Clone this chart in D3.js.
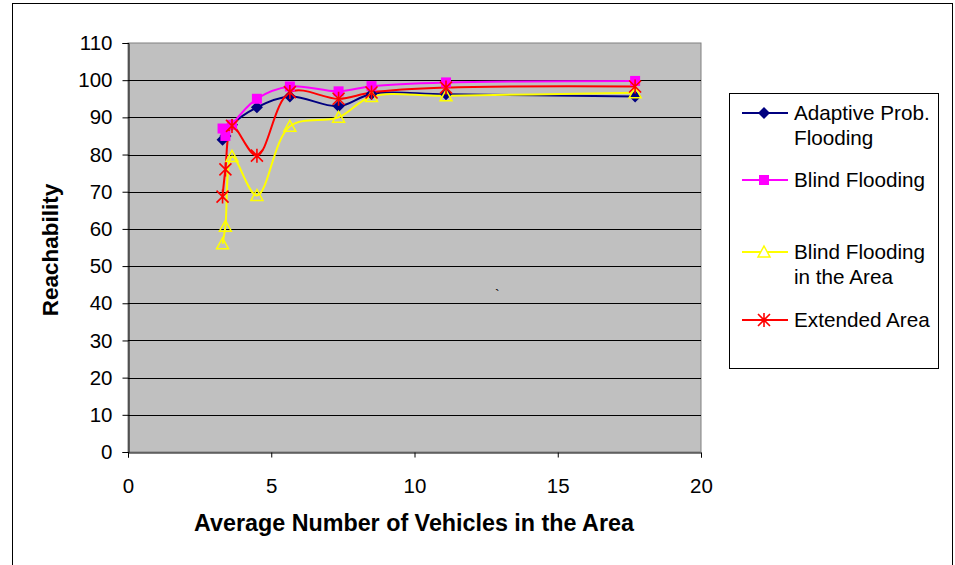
<!DOCTYPE html>
<html><head><meta charset="utf-8">
<script src="https://cdn.jsdelivr.net/npm/d3@7"></script>
<style>body{margin:0;background:#fff}svg{display:block;font-family:"Liberation Sans",Arial,sans-serif}</style>
</head><body>
<script>
const xValues = [3.3, 3.4, 3.63, 4.5, 5.65, 7.35, 8.5, 11.1, 17.7];
const adaptive = [84, 85, 88, 92.7, 95.6, 93, 96.3, 96.2, 95.6];
const blind = [87, 85, 88, 95, 98.3, 97, 98.4, 99.4, 99.8];
const blindArea = [56, 60.7, 79.5, 69, 87.6, 90, 95.6, 95.8, 96.6];
const extended = [68.7, 76, 87.7, 79.7, 96.8, 95, 96.7, 98, 98.3];
const seriesNames = ["Adaptive Prob.|Flooding", "Blind Flooding", "Blind Flooding|in the Area", "Extended Area"];
const seriesColors = ["#000080", "#ff00ff", "#ffff00", "#ff0000"];
const seriesMarkers = ["diamond", "square", "triangle", "star"];
const xTicks = [0, 5, 10, 15, 20];
const yTicks = [0, 10, 20, 30, 40, 50, 60, 70, 80, 90, 100, 110];

const W = 955, H = 565;
const svg = d3.select("body").append("svg").attr("width", W).attr("height", H);
svg.append("rect").attr("x", 12.5).attr("y", 3.5).attr("width", 940).attr("height", 580)
  .attr("fill", "#fff").attr("stroke", "#000").attr("stroke-width", 1);

const L = 128, R = 701, T = 43, B = 452;
const x = d3.scaleLinear().domain([0, 20]).range([L, R]);
const y = d3.scaleLinear().domain([0, 110]).range([B, T]);

svg.append("rect").attr("x", L).attr("y", T).attr("width", R - L).attr("height", B - T)
  .attr("fill", "#c0c0c0").attr("stroke", "#808080").attr("stroke-width", 1);

// gridlines
svg.append("g").selectAll("line").data(yTicks.filter(d => d > 0 && d < 110)).join("line")
  .attr("x1", L).attr("x2", R).attr("y1", d => Math.round(y(d)) + 0.5).attr("y2", d => Math.round(y(d)) + 0.5)
  .attr("stroke", "#000").attr("stroke-width", 1);

// axes
const yAxis = svg.append("g").attr("transform", `translate(${L + 0.5},0)`)
  .call(d3.axisLeft(y).tickValues(yTicks).tickSize(6).tickPadding(10));
const xAxis = svg.append("g").attr("transform", `translate(0,${B + 0.5})`)
  .call(d3.axisBottom(x).tickValues(xTicks).tickSize(5).tickPadding(35));
[yAxis, xAxis].forEach(g => {
  g.select(".domain").attr("stroke", "#000");
  g.selectAll(".tick line").attr("stroke", "#000");
  g.selectAll("text").attr("font-size", 20.5).attr("fill", "#000").attr("font-family", "'Liberation Sans',Arial,sans-serif");
});
xAxis.selectAll("text").attr("dy", "0");

svg.append("text").attr("x", 414).attr("y", 531).attr("text-anchor", "middle")
  .attr("font-size", 23.3).attr("font-weight", "bold").text("Average Number of Vehicles in the Area");
svg.append("text").attr("transform", "translate(58,250) rotate(-90)").attr("text-anchor", "middle")
  .attr("font-size", 22.5).attr("font-weight", "bold").text("Reachability");
svg.append("text").attr("x", 495).attr("y", 300).attr("font-size", 14).text("`");

const allSeries = [adaptive, blind, blindArea, extended];

function marker(g, type, color, cx, cy) {
  if (type === "diamond") {
    g.append("path").attr("d", `M${cx},${cy - 6}L${cx + 6},${cy}L${cx},${cy + 6}L${cx - 6},${cy}Z`).attr("fill", color);
  } else if (type === "square") {
    g.append("rect").attr("x", cx - 5).attr("y", cy - 5).attr("width", 10).attr("height", 10).attr("fill", color);
  } else if (type === "triangle") {
    g.append("path").attr("d", `M${cx},${cy - 6}L${cx + 6},${cy + 5}L${cx - 6},${cy + 5}Z`)
      .attr("fill", "none").attr("stroke", color).attr("stroke-width", 1.5);
  } else {
    const r = 6;
    g.append("path").attr("d", `M${cx - r},${cy - r}L${cx + r},${cy + r}M${cx - r},${cy + r}L${cx + r},${cy - r}M${cx},${cy - r - 1}L${cx},${cy + r + 1}`)
      .attr("stroke", color).attr("stroke-width", 1.6);
  }
}

const line = d3.line().x(d => x(d[0])).y(d => y(d[1])).curve(d3.curveCatmullRom.alpha(0.5));
const plot = svg.append("g");
allSeries.forEach((vals, i) => {
  const pts = xValues.map((xv, j) => [xv, vals[j]]);
  plot.append("path").attr("d", line(pts)).attr("fill", "none")
    .attr("stroke", seriesColors[i]).attr("stroke-width", 2);
});
allSeries.forEach((vals, i) => {
  const g = plot.append("g");
  xValues.forEach((xv, j) => marker(g, seriesMarkers[i], seriesColors[i], x(xv), y(vals[j])));
});

// legend
const lg = svg.append("g");
lg.append("rect").attr("x", 729.5).attr("y", 93.5).attr("width", 209).attr("height", 275)
  .attr("fill", "#fff").attr("stroke", "#000");
const rowY = [113, 180, 252, 320];
seriesNames.forEach((name, i) => {
  const cy = rowY[i];
  lg.append("line").attr("x1", 742).attr("x2", 788).attr("y1", cy).attr("y2", cy)
    .attr("stroke", seriesColors[i]).attr("stroke-width", 2);
  if (seriesMarkers[i] === "triangle") {
    lg.append("path").attr("d", `M764,${cy - 6}L770,${cy + 5}L758,${cy + 5}Z`).attr("fill", "#fff")
      .attr("stroke", seriesColors[i]).attr("stroke-width", 1.5);
  } else marker(lg, seriesMarkers[i], seriesColors[i], 764, cy);
  name.split("|").forEach((t, k) => {
    lg.append("text").attr("x", 794).attr("y", cy + 7 + k * 25).attr("font-size", 20.7).text(t);
  });
});
</script>
</body></html>
